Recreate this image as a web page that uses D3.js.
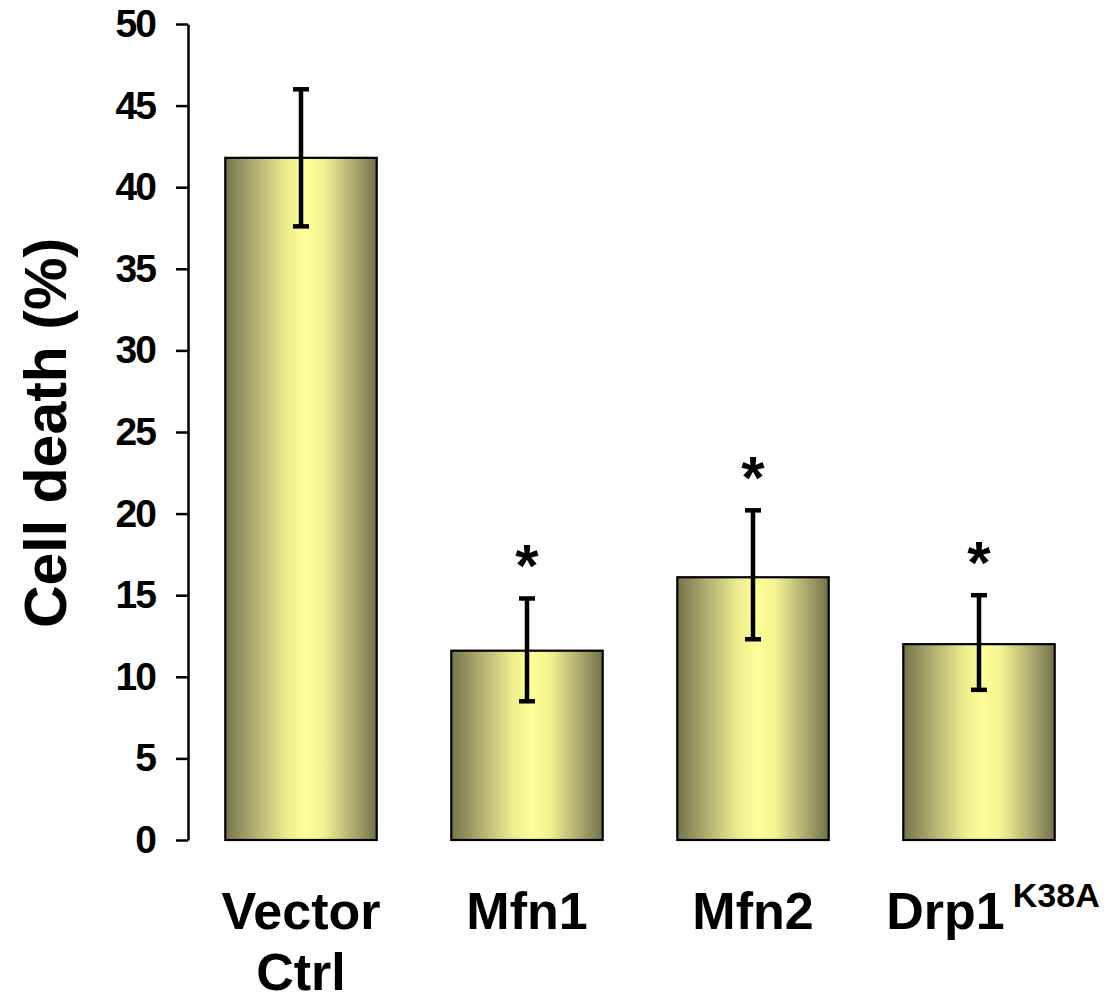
<!DOCTYPE html>
<html>
<head>
<meta charset="utf-8">
<script src="https://cdn.jsdelivr.net/npm/d3@7"></script>
<style>
  body { margin: 0; background: #fff; }
  svg text { font-family: "Liberation Sans", Arial, sans-serif; font-weight: bold; fill: #000; }
</style>
</head>
<body>
<svg id="chart" width="1107" height="999"></svg>
<script>
// data
var groups = ["Vector Ctrl", "Mfn1", "Mfn2", "Drp1"];
var labelLines = [["Vector", "Ctrl"], ["Mfn1"], ["Mfn2"], ["Drp1"]];
var superscripts = ["", "", "", "K38A"];
var means = [41.8, 11.6, 16.1, 12.0];
var errHigh = [46.0, 14.8, 20.2, 15.0];
var errLow = [37.6, 8.5, 12.3, 9.2];
var significant = [false, true, true, true];
var yTicks = [0, 5, 10, 15, 20, 25, 30, 35, 40, 45, 50];

var svg = d3.select("#chart");

var x = d3.scaleBand()
    .domain(groups)
    .range([188, 1092])
    .paddingInner(0.33)
    .paddingOuter(0.165);

var y = d3.scaleLinear().domain([0, 50]).range([840, 24]);

var defs = svg.append("defs");
var grad = defs.append("linearGradient")
    .attr("id", "barGrad")
    .attr("x1", "0%").attr("x2", "100%").attr("y1", "0%").attr("y2", "0%");
[["0%", "#74744a"], ["22%", "#b8b676"], ["40%", "#ecec8e"], ["53%", "#ffff99"],
 ["65%", "#f2f292"], ["82%", "#b6b474"], ["100%", "#72724a"]].forEach(function(s) {
    grad.append("stop").attr("offset", s[0]).attr("stop-color", s[1]);
});

var data = groups.map(function(g, i) {
    return {name: g, mean: means[i], hi: errHigh[i], lo: errLow[i], sig: significant[i]};
});

// bars
svg.selectAll(".bar")
    .data(data)
    .enter().append("rect")
    .attr("class", "bar")
    .attr("x", function(d) { return x(d.name); })
    .attr("width", x.bandwidth())
    .attr("y", function(d) { return y(d.mean); })
    .attr("height", function(d) { return y(0) - y(d.mean); })
    .attr("fill", "url(#barGrad)")
    .attr("stroke", "#000")
    .attr("stroke-width", 2.2);

// error bars
var eb = svg.selectAll(".err")
    .data(data)
    .enter().append("g")
    .attr("class", "err")
    .attr("stroke", "#000")
    .attr("stroke-width", 4.5);

eb.append("line")
    .attr("x1", function(d) { return x(d.name) + x.bandwidth() / 2; })
    .attr("x2", function(d) { return x(d.name) + x.bandwidth() / 2; })
    .attr("y1", function(d) { return y(d.hi); })
    .attr("y2", function(d) { return y(d.lo); });

eb.append("line")
    .attr("x1", function(d) { return x(d.name) + x.bandwidth() / 2 - 8; })
    .attr("x2", function(d) { return x(d.name) + x.bandwidth() / 2 + 8; })
    .attr("y1", function(d) { return y(d.hi); })
    .attr("y2", function(d) { return y(d.hi); });

eb.append("line")
    .attr("x1", function(d) { return x(d.name) + x.bandwidth() / 2 - 8; })
    .attr("x2", function(d) { return x(d.name) + x.bandwidth() / 2 + 8; })
    .attr("y1", function(d) { return y(d.lo); })
    .attr("y2", function(d) { return y(d.lo); });

// significance stars
svg.selectAll(".star")
    .data(data.filter(function(d) { return d.sig; }))
    .enter().append("text")
    .attr("class", "star")
    .attr("x", function(d) { return x(d.name) + x.bandwidth() / 2; })
    .attr("y", function(d) { return y(d.hi) - 12; })
    .attr("text-anchor", "middle")
    .style("font-size", "60px")
    .text("*");

// y axis
var yAxis = svg.append("g")
    .attr("transform", "translate(188,0)")
    .call(d3.axisLeft(y).tickValues(yTicks).tickSize(12).tickSizeOuter(0).tickPadding(21));

yAxis.select(".domain").attr("stroke", "#000").attr("stroke-width", 2.5);
yAxis.selectAll(".tick line").attr("stroke", "#000").attr("stroke-width", 2.5);
yAxis.selectAll(".tick text")
    .style("font-size", "39px")
    .style("letter-spacing", "-2px")
    .attr("fill", "#000");

svg.append("text")
    .attr("transform", "translate(66,433) rotate(-90)")
    .attr("text-anchor", "middle")
    .style("font-size", "59px")
    .text("Cell death (%)");

// category labels
data.forEach(function(d, i) {
    var cx = x(d.name) + x.bandwidth() / 2;
    var lx = superscripts[i] ? cx + 14 : cx;
    var t = svg.append("text")
        .attr("x", lx)
        .attr("y", 929)
        .attr("text-anchor", "middle")
        .style("font-size", "52px");
    labelLines[i].forEach(function(line, j) {
        t.append("tspan")
            .attr("x", lx)
            .attr("dy", j === 0 ? 0 : 61)
            .text(line);
    });
    if (superscripts[i]) {
        t.append("tspan")
            .attr("dx", 8)
            .attr("dy", -22)
            .style("font-size", "34px")
            .text(superscripts[i]);
    }
});
</script>
</body>
</html>
